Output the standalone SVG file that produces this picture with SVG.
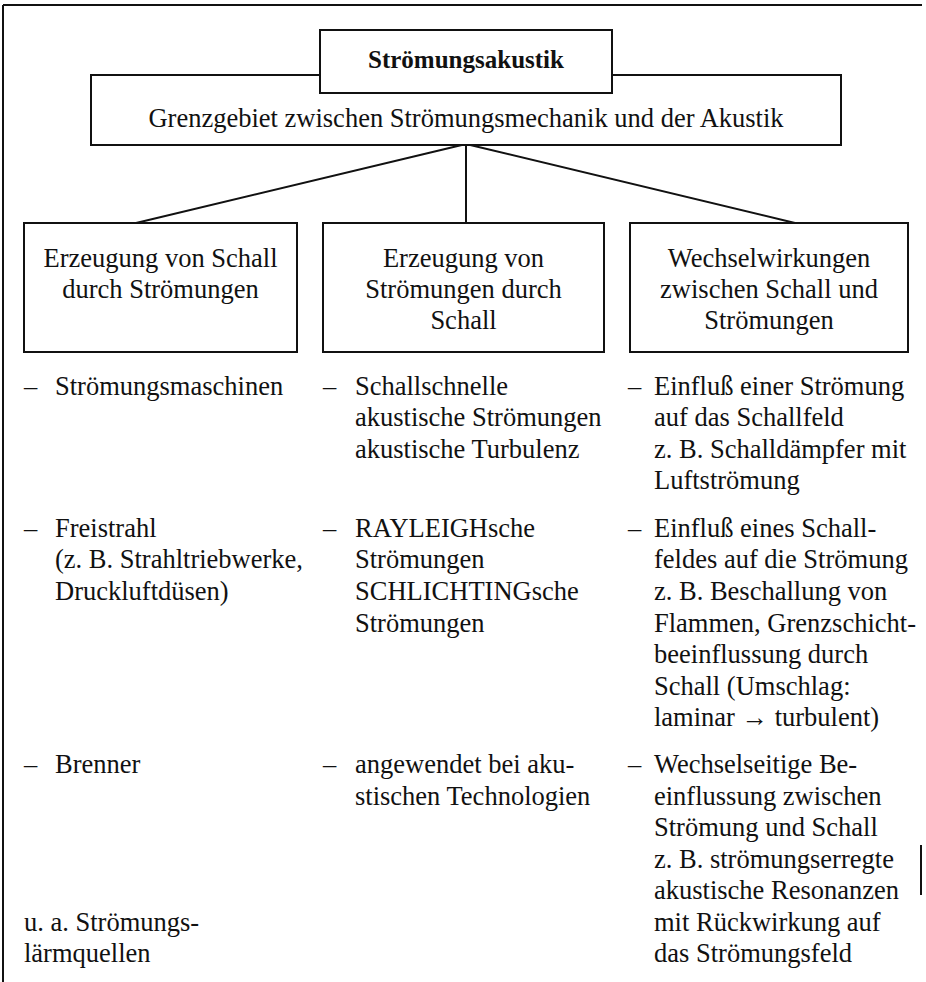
<svg xmlns="http://www.w3.org/2000/svg" width="926" height="982" viewBox="0 0 926 982">
<style>
  .bx{fill:#fff;stroke:#111;stroke-width:2}
  .ln{stroke:#111;stroke-width:2;fill:none}
  .t{font-family:"Liberation Serif","Times New Roman",serif;font-size:26.5px;fill:#111}
  .c{text-anchor:middle}
  .b{font-weight:bold;font-size:25px}
</style>
<rect width="926" height="982" fill="#fff"/>
<g id="frame">
  <path class="ln" d="M3,5 H922 M3,5 V982 M921,845 V895"/>
</g>
<g id="connectors">
  <path class="ln" d="M466,144 L136,223 M466,144 V223 M466,144 L795,223"/>
</g>
<g id="node-gebiet">
  <rect class="bx" x="91" y="75" width="750" height="70"/>
  <text class="t c" x="466" y="127">Grenzgebiet zwischen Strömungsmechanik und der Akustik</text>
</g>
<g id="node-title">
  <rect class="bx" x="320" y="30" width="292" height="63"/>
  <text class="t c b" x="466" y="68">Strömungsakustik</text>
</g>
<g id="node-a">
  <rect class="bx" x="24" y="223" width="273" height="129"/>
  <text class="t c" x="160.5" y="267">Erzeugung von Schall</text>
  <text class="t c" x="160.5" y="298">durch Strömungen</text>
</g>
<g id="node-b">
  <rect class="bx" x="323" y="223" width="281" height="129"/>
  <text class="t c" x="463.5" y="267">Erzeugung von</text>
  <text class="t c" x="463.5" y="298">Strömungen durch</text>
  <text class="t c" x="463.5" y="329">Schall</text>
</g>
<g id="node-c">
  <rect class="bx" x="630" y="223" width="278" height="129"/>
  <text class="t c" x="769" y="267">Wechselwirkungen</text>
  <text class="t c" x="769" y="298">zwischen Schall und</text>
  <text class="t c" x="769" y="329">Strömungen</text>
</g>
<g id="list-a">
  <text class="t" x="24" y="395">–</text>
  <text class="t" x="55" y="395">Strömungsmaschinen</text>
  <text class="t" x="24" y="537">–</text>
  <text class="t" x="55" y="537">Freistrahl</text>
  <text class="t" x="55" y="568">(z. B. Strahltriebwerke,</text>
  <text class="t" x="55" y="600">Druckluftdüsen)</text>
  <text class="t" x="24" y="773">–</text>
  <text class="t" x="55" y="773">Brenner</text>
  <text class="t" x="24" y="931">u. a. Strömungs-</text>
  <text class="t" x="24" y="962">lärmquellen</text>
</g>
<g id="list-b">
  <text class="t" x="323" y="395">–</text>
  <text class="t" x="355" y="395">Schallschnelle</text>
  <text class="t" x="355" y="426">akustische Strömungen</text>
  <text class="t" x="355" y="458">akustische Turbulenz</text>
  <text class="t" x="323" y="537">–</text>
  <text class="t" x="355" y="537">RAYLEIGHsche</text>
  <text class="t" x="355" y="568">Strömungen</text>
  <text class="t" x="355" y="600">SCHLICHTINGsche</text>
  <text class="t" x="355" y="632">Strömungen</text>
  <text class="t" x="323" y="773">–</text>
  <text class="t" x="355" y="773">angewendet bei aku-</text>
  <text class="t" x="355" y="805">stischen Technologien</text>
</g>
<g id="list-c">
  <text class="t" x="628" y="395">–</text>
  <text class="t" x="654" y="395">Einfluß einer Strömung</text>
  <text class="t" x="654" y="426">auf das Schallfeld</text>
  <text class="t" x="654" y="458">z. B. Schalldämpfer mit</text>
  <text class="t" x="654" y="489">Luftströmung</text>
  <text class="t" x="628" y="537">–</text>
  <text class="t" x="654" y="537">Einfluß eines Schall-</text>
  <text class="t" x="654" y="568">feldes auf die Strömung</text>
  <text class="t" x="654" y="600">z. B. Beschallung von</text>
  <text class="t" x="654" y="632">Flammen, Grenzschicht-</text>
  <text class="t" x="654" y="663">beeinflussung durch</text>
  <text class="t" x="654" y="695">Schall (Umschlag:</text>
  <text class="t" x="654" y="726">laminar → turbulent)</text>
  <text class="t" x="628" y="773">–</text>
  <text class="t" x="654" y="773">Wechselseitige Be-</text>
  <text class="t" x="654" y="805">einflussung zwischen</text>
  <text class="t" x="654" y="836">Strömung und Schall</text>
  <text class="t" x="654" y="868">z. B. strömungserregte</text>
  <text class="t" x="654" y="899">akustische Resonanzen</text>
  <text class="t" x="654" y="931">mit Rückwirkung auf</text>
  <text class="t" x="654" y="962">das Strömungsfeld</text>
</g>
</svg>
